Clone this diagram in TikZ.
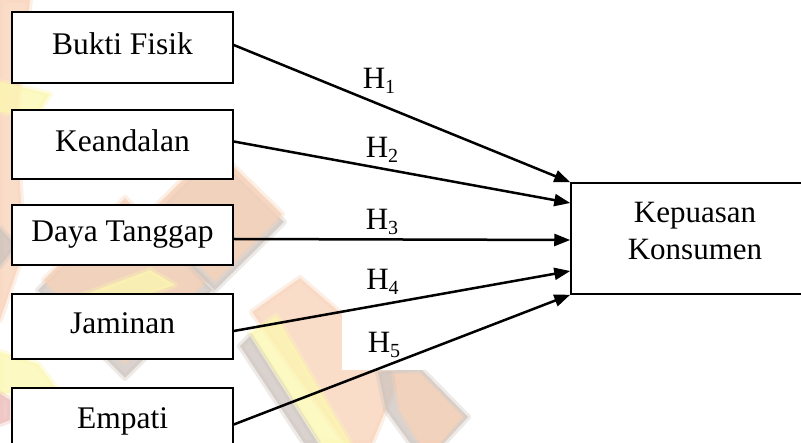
\documentclass[tikz,border=0pt]{standalone}
\usepackage{fontspec}
\setmainfont{Liberation Serif}
\usetikzlibrary{arrows.meta,calc}

\definecolor{wmpeach}{HTML}{F9D2B8}
\definecolor{wmyellow}{HTML}{FCF7B0}
\definecolor{wmgray}{HTML}{CDC4BE}
\definecolor{wmpink}{HTML}{EDBDB8}

% subscript index of a hypothesis label
\newcommand\hsub[1]{\raisebox{-5pt}{\fontsize{20}{20}\selectfont #1}}

\begin{document}
\begin{tikzpicture}[x=1pt,y=-1pt,
  every node/.style={font=\fontsize{31.5}{37}\selectfont},
  varbox/.style={draw, line width=1.5pt, fill=white, inner sep=0pt,
    minimum width=221pt, text height=21pt, text depth=7pt},
  targetbox/.style={draw, line width=1.5pt, fill=white, inner sep=0pt,
    minimum width=248pt, minimum height=111pt},
  link/.style={line width=2.5pt, -{Triangle[length=16pt,width=12pt]}},
  hyp/.style={anchor=base, inner sep=0pt, font=\fontsize{31}{37}\selectfont},
  hypcover/.style={hyp, fill=white},
  soft/.style={fill=#1, draw=#1, line width=6pt, line join=round,
    fill opacity=.75, draw opacity=.35}
]
\useasboundingbox (0,0) rectangle (801,443);
\clip (0,0) rectangle (801,443);
\fill[white] (0,0) rectangle (801,443);

% faded backdrop pattern
\begin{scope}
  \path[soft=wmpeach] (0,0) -- (30,0) -- (16,120) -- (24,250) -- (0,320) -- cycle;
  \path[soft=wmyellow] (0,82) -- (50,94) -- (36,116) -- (0,112) -- cycle;
  \path[soft=wmgray] (0,228) -- (16,246) -- (0,266) -- cycle;
  \path[soft=wmyellow] (0,352) -- (38,364) -- (56,388) -- (0,394) -- cycle;
  \path[soft=wmpink] (0,394) -- (10,400) -- (10,420) -- (0,424) -- cycle;
  % diamond behind the lower boxes
  \path[soft=wmgray] (125,204) -- (212,290) -- (125,378) -- (38,290) -- cycle;
  \path[soft=wmpeach] (125,198) -- (206,280) -- (125,362) -- (44,280) -- cycle;
  \path[soft=wmyellow] (70,300) -- (150,270) -- (175,285) -- (95,312) -- cycle;
  % diamond beside the middle box
  \path[soft=wmgray] (215,154) -- (284,222) -- (215,290) -- (146,222) -- cycle;
  \path[soft=wmpeach] (215,148) -- (282,214) -- (215,280) -- (148,214) -- cycle;
  % lower diagonal band
  \path[soft=wmpeach] (252,312) -- (300,278) -- (360,330) -- (398,380)
        -- (372,443) -- (345,443) -- cycle;
  \path[soft=wmyellow] (250,334) -- (276,316) -- (350,443) -- (320,443) -- cycle;
  \path[soft=wmgray] (240,346) -- (250,336) -- (318,443) -- (304,443) -- cycle;
  \path[soft=wmgray] (378,372) -- (420,368) -- (468,417) -- (444,443)
        -- (410,443) -- (386,410) -- cycle;
  \path[soft=wmpeach] (394,374) -- (420,374) -- (462,417) -- (440,443)
        -- (420,443) -- (400,410) -- cycle;
\end{scope}

% hypothesis labels
\node[hyp] (h1) at (379,89) {H\hsub{1}};
\node[hyp] (h2) at (382,158) {H\hsub{2}};
\node[hyp] (h3) at (382,230) {H\hsub{3}};
\node[hypcover, text height=27pt, text depth=17pt, minimum width=85pt] (h4) at (382.5,290) {H\hsub{4}};
\node[hypcover, text height=40pt, text depth=17pt, minimum width=84pt] (h5) at (384,353) {H\hsub{5}};

% service quality dimensions
\node[varbox, minimum height=71pt] (b1) at (122.5,47.5) {Bukti Fisik};
\node[varbox, minimum height=69pt] (b2) at (122.5,144.5) {Keandalan};
\node[varbox, minimum height=60pt] (b3) at (122.5,235) {Daya Tanggap};
\node[varbox, minimum height=65pt] (b4) at (122.5,326.5) {Jaminan};
\node[varbox, minimum height=67pt] (b5) at (122.5,421.5) {Empati};

% dependent variable
\node[targetbox] (kp) at (695,238.5) {};
\node[anchor=north, inner sep=0pt, align=center, font=\fontsize{31}{37}\selectfont]
  (kptext) at (695,202.5) {Kepuasan\\Konsumen};

% paths
\draw[link] ($(b1.east)+(0,-2.5)$) -- (kp.north west);
\draw[link] ($(b2.east)+(0,-3)$)   -- ($(kp.west)+(0,-35.5)$);
\draw[link] ($(b3.east)+(0,4)$)    -- ($(kp.west)+(0,1.5)$);
\draw[link] ($(b4.east)+(0,4.5)$)  -- ($(kp.west)+(0,32.5)$);
\draw[link] ($(b5.east)+(0,3)$)    -- (kp.south west);
\end{tikzpicture}
\end{document}
